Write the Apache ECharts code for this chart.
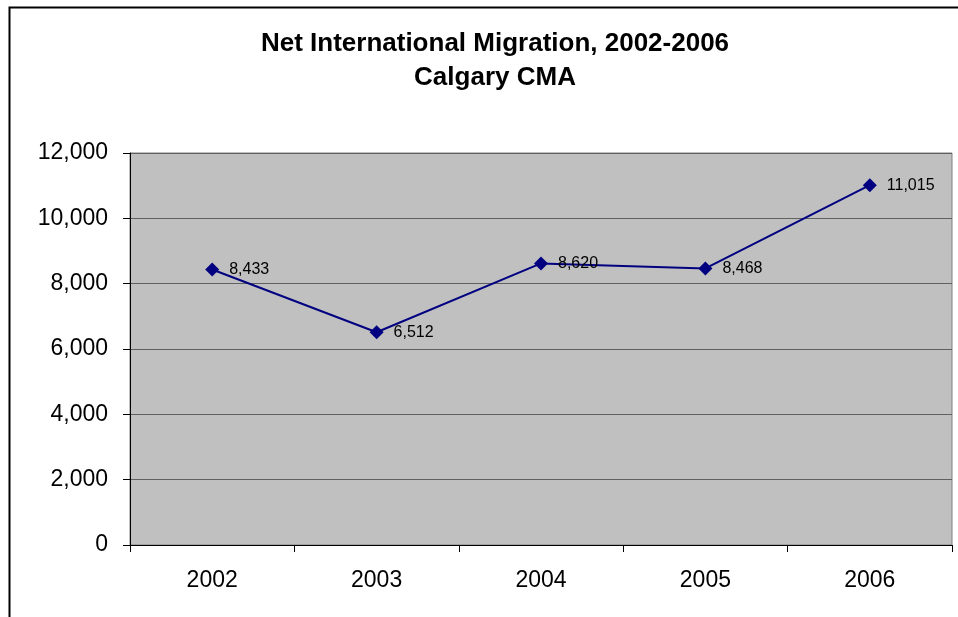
<!DOCTYPE html>
<html><head><meta charset="utf-8">
<script src="https://cdn.jsdelivr.net/npm/echarts@6/dist/echarts.min.js"></script>
<style>html,body{margin:0;padding:0;background:#fff}#c{width:958px;height:617px}</style>
</head><body><div id="c"></div>
<script>
var categories = ['2002','2003','2004','2005','2006'];
var values = [8433, 6512, 8620, 8468, 11015];
var titleLines = ['Net International Migration, 2002-2006', 'Calgary CMA'];

var chart = echarts.init(document.getElementById('c'), null, {renderer:'canvas'});
chart.setOption({
  animation:false,
  backgroundColor:'#fff',
  title:{
    text: titleLines.join('\n'),
    left: 490, top: 22, textAlign:'center',
    textStyle:{fontFamily:'Liberation Sans, Arial', fontWeight:'bold', fontSize:26, color:'#000', lineHeight:34}
  },
  graphic:[{type:'rect', shape:{x:9.5,y:7.5,width:1000,height:700}, style:{fill:null, stroke:'#000', lineWidth:2}, z:100}],
  grid:{left:130, right:6, top:153, bottom:72, backgroundColor:'#C0C0C0', show:true, borderColor:'#808080', borderWidth:1},
  xAxis:{
    type:'category', data:categories, boundaryGap:true,
    axisLine:{lineStyle:{color:'#000', width:1}},
    axisTick:{show:true, length:7, lineStyle:{color:'#000'}},
    axisLabel:{fontFamily:'Liberation Sans, Arial', fontSize:23, color:'#000', margin:24}
  },
  yAxis:{
    type:'value', min:0, max:12000, interval:2000,
    axisLine:{show:true, lineStyle:{color:'#000', width:1}},
    axisTick:{show:true, length:7, lineStyle:{color:'#000'}},
    splitLine:{show:true, lineStyle:{color:'#606060', width:1}},
    axisLabel:{fontFamily:'Liberation Sans, Arial', fontSize:23, color:'#000', margin:22,
      formatter:function(v){return v.toLocaleString('en-US');}}
  },
  series:[{
    type:'line', data:values,
    symbol:'diamond', symbolSize:14,
    itemStyle:{color:'#000080'},
    lineStyle:{color:'#000080', width:2},
    label:{show:true, position:'right', distance:10, fontFamily:'Liberation Sans, Arial', fontSize:16, color:'#000',
      formatter:function(p){return p.value.toLocaleString('en-US');}}
  }]
});
</script></body></html>
